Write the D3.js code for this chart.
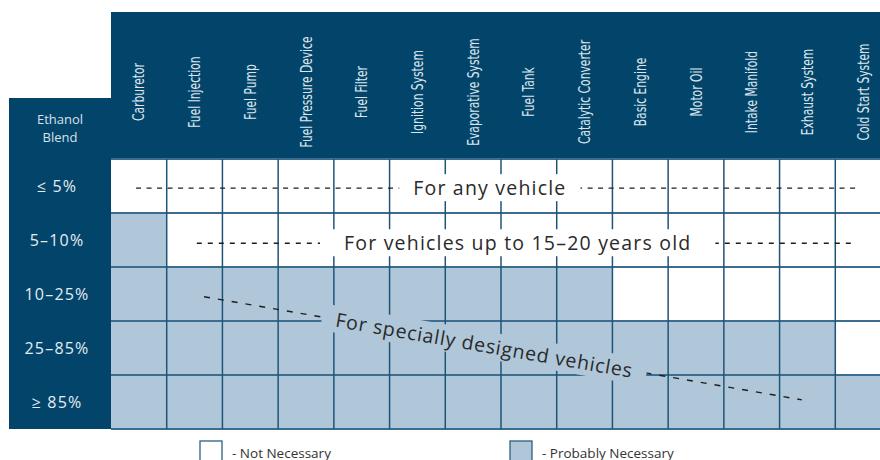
<!DOCTYPE html>
<html>
<head>
<meta charset="utf-8">
<script src="https://cdn.jsdelivr.net/npm/d3@7"></script>
<style>
  html, body { margin: 0; padding: 0; background: #fff; overflow: hidden; }
  svg { display: block; }
</style>
</head>
<body>
<div id="chart"></div>
<script>
// columns: engine parts, rows: ethanol blends
var components = ["Carburetor", "Fuel Injection", "Fuel Pump", "Fuel Pressure Device", "Fuel Filter",
  "Ignition System", "Evaporative System", "Fuel Tank", "Catalytic Converter", "Basic Engine",
  "Motor Oil", "Intake Manifold", "Exhaust System", "Cold Start System"];
var blends = ["\u2264 5%", "5\u201310%", "10\u201325%", "25\u201385%", "\u2265 85%"];
// how many leading components are "probably necessary" to change for each blend
var necessaryCount = [0, 1, 9, 13, 14];
var notes = ["For any vehicle", "For vehicles up to 15\u201320 years old", "For specially designed vehicles"];
var legendLabels = ["- Not Necessary", "- Probably Necessary"];

var W = 880, H = 460;
var HEAD = "#03456a", FILL = "#b0c7d9", LINE = "#1f5479";

var svg = d3.select("#chart").append("svg").attr("width", W).attr("height", H);

var x = d3.scaleBand().domain(d3.range(components.length)).range([111, 891]);
var y = d3.scaleBand().domain(d3.range(blends.length)).range([159, 429]);
// continuous versions for the annotation lines
var xc = d3.scaleLinear().domain([0, components.length]).range([111, 891]);
var yc = d3.scaleLinear().domain([0, blends.length]).range([159, 429]);

// header blocks
svg.append("rect").attr("x", 111).attr("y", 12).attr("width", W - 111).attr("height", 147).attr("fill", HEAD);
svg.append("rect").attr("x", 9).attr("y", 98).attr("width", 102).attr("height", 331).attr("fill", HEAD);

svg.selectAll("text.comp").data(components).enter().append("text")
  .attr("class", "comp")
  .attr("transform", function(d, i) { return "translate(" + (x(i) + x.bandwidth() / 2 + 5.5) + ",92) rotate(-90) scale(0.77,1)"; })
  .attr("text-anchor", "middle")
  .attr("font-family", "'Liberation Sans Narrow', 'DejaVu Sans Condensed', sans-serif")
  .attr("font-size", 15.5)
  .attr("fill", "#dbe5ed")
  .text(function(d) { return d; });

var eb = svg.append("text").attr("text-anchor", "middle").attr("font-family", "'Open Sans', sans-serif")
  .attr("font-size", 13).attr("fill", "#d6e1ea");
eb.append("tspan").attr("x", 60).attr("y", 124).text("Ethanol");
eb.append("tspan").attr("x", 60).attr("y", 141.5).text("Blend");

svg.selectAll("text.blend").data(blends).enter().append("text")
  .attr("class", "blend")
  .attr("x", 57).attr("y", function(d, i) { return y(i) + y.bandwidth() / 2 + 6; })
  .attr("text-anchor", "middle")
  .attr("font-family", "'Open Sans', sans-serif")
  .attr("font-size", 16).attr("letter-spacing", 1.2)
  .attr("fill", "#e4ecf2")
  .text(function(d) { return d; });

// cells
var cells = [];
blends.forEach(function(b, r) {
  components.forEach(function(c, k) { cells.push({ r: r, k: k, on: k < necessaryCount[r] }); });
});
svg.selectAll("rect.cell").data(cells).enter().append("rect")
  .attr("class", "cell")
  .attr("x", function(d) { return x(d.k); })
  .attr("y", function(d) { return y(d.r); })
  .attr("width", x.bandwidth()).attr("height", y.bandwidth())
  .attr("fill", function(d) { return d.on ? FILL : "#fff"; });

// grid lines
svg.selectAll("line.h").data(d3.range(blends.length + 1)).enter().append("line")
  .attr("x1", 111).attr("x2", W)
  .attr("y1", function(d) { return yc(d); }).attr("y2", function(d) { return yc(d); })
  .attr("stroke", "#3b6d90").attr("stroke-width", 1.8);
svg.selectAll("line.v").data(d3.range(1, components.length)).enter().append("line")
  .attr("x1", function(d) { return xc(d); }).attr("x2", function(d) { return xc(d); })
  .attr("y1", 159).attr("y2", 429)
  .attr("stroke", LINE).attr("stroke-width", 1.5);

// annotations
var notePaths = [
  { a: [0.45, 0.54], b: [13.36, 0.54], t: [6.8, 0.54], bg: "#fff", dash: "5,5.5", pad: 14 },
  { a: [1.54, 1.56], b: [13.36, 1.56], t: [7.3, 1.56], bg: "#fff", dash: "5,6", pad: 24 },
  { a: [1.67, 2.55], b: [12.4, 4.46], t: [6.7, 3.45], bg: FILL, dash: "6,8", pad: 14 }
];
var fontFam = "'Open Sans', sans-serif";
notePaths.forEach(function(p, i) {
  var x1 = xc(p.a[0]), y1 = yc(p.a[1]), x2 = xc(p.b[0]), y2 = yc(p.b[1]);
  svg.append("line").attr("x1", x1).attr("y1", y1).attr("x2", x2).attr("y2", y2)
    .attr("stroke", "#1e1e1e").attr("stroke-width", 1.4).attr("stroke-dasharray", p.dash);
  var ang = Math.atan2(y2 - y1, x2 - x1) * 180 / Math.PI;
  var g = svg.append("g").attr("transform", "translate(" + xc(p.t[0]) + "," + yc(p.t[1]) + ") rotate(" + ang + ")");
  var bgRect = g.append("rect").attr("fill", p.bg);
  var t = g.append("text").attr("text-anchor", "middle").attr("y", 7)
    .attr("font-family", fontFam).attr("font-size", 19.5).attr("letter-spacing", i == 2 ? 0.8 : 1.2)
    .attr("fill", "#2a2a2a").text(notes[i]);
  var bb = t.node().getBBox();
  bgRect.attr("x", bb.x - p.pad).attr("y", bb.y).attr("width", bb.width + 2 * p.pad).attr("height", bb.height);
});

// legend
var lg = svg.selectAll("g.leg").data(legendLabels).enter().append("g")
  .attr("transform", function(d, i) { return "translate(" + (i ? 510 : 200) + ",441)"; });
lg.append("rect").attr("width", 22).attr("height", 24)
  .attr("fill", function(d, i) { return i ? FILL : "#fff"; })
  .attr("stroke", "#2b5f80").attr("stroke-width", 1.3);
lg.append("text").attr("x", 32).attr("y", 16.5)
  .attr("font-family", fontFam).attr("font-size", 13.5).attr("fill", "#333")
  .text(function(d) { return d; });
</script>
</body>
</html>
